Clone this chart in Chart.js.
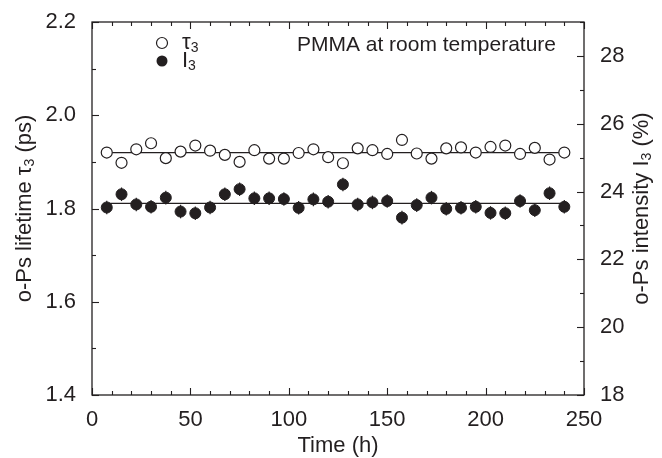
<!DOCTYPE html>
<html><head><meta charset="utf-8">
<script src="https://cdn.jsdelivr.net/npm/chart.js@4.4.0/dist/chart.umd.min.js"></script>
<style>html,body{margin:0;padding:0;background:#fff}canvas{display:block}</style>
</head><body>
<canvas id="c" width="662" height="458"></canvas>
<script>
const timeH = [7.5,15,22.5,30,37.5,45,52.5,60,67.5,75,82.5,90,97.5,105,112.5,120,127.5,135,142.5,150,157.5,165,172.5,180,187.5,195,202.5,210,217.5,225,232.5,240];
const tau3 = [1.920,1.898,1.927,1.940,1.908,1.922,1.935,1.924,1.915,1.900,1.925,1.907,1.907,1.919,1.927,1.910,1.897,1.929,1.925,1.917,1.947,1.918,1.907,1.929,1.931,1.920,1.932,1.935,1.917,1.930,1.905,1.920];
const I3 = [23.53,23.92,23.62,23.55,23.82,23.41,23.36,23.53,23.92,24.07,23.80,23.80,23.78,23.52,23.77,23.70,24.21,23.62,23.68,23.72,23.23,23.60,23.82,23.49,23.52,23.55,23.37,23.36,23.72,23.45,23.95,23.55];
const I3err = [0.2,0.2,0.2,0.2,0.2,0.2,0.2,0.2,0.2,0.2,0.2,0.2,0.2,0.2,0.2,0.2,0.2,0.2,0.2,0.2,0.2,0.2,0.2,0.2,0.2,0.2,0.2,0.2,0.2,0.2,0.2,0.2];
const tau3Fit = [1.92, 1.92];
const I3Fit = [23.65, 23.65];
const fitRange = [7.5, 240];
const xRange = [0, 250];
const tauRange = [1.4, 2.2];
const I3Range = [18, 29];

const INK = '#231f20';
const FONT = '"Liberation Sans", Arial, sans-serif';

function pts(xs, ys){ return xs.map((x,i)=>({x:x, y:ys[i]})); }

const frame = {
  id:'frame',
  beforeDatasetsDraw(chart){
    const ctx = chart.ctx, a = chart.chartArea;
    const sx = chart.scales.x, sy = chart.scales.y, sy2 = chart.scales.y2;
    ctx.save();
    ctx.strokeStyle = INK; ctx.lineWidth = 1.3;
    ctx.strokeRect(a.left, a.top, a.right-a.left, a.bottom-a.top);
    ctx.lineWidth = 1.1;
    for (let v = xRange[0]; v <= xRange[1]+1e-6; v += 10) {
      const px = Math.round(sx.getPixelForValue(v))+0.5;
      const len = (Math.abs(v % 50) < 1e-6) ? 7 : 4;
      ctx.beginPath(); ctx.moveTo(px, a.bottom); ctx.lineTo(px, a.bottom-len);
      ctx.moveTo(px, a.top); ctx.lineTo(px, a.top+len); ctx.stroke();
    }
    for (let k = 0; k <= 8; k++) {
      const v = tauRange[0] + k*0.1;
      const py = Math.round(sy.getPixelForValue(v))+0.5;
      const len = (k % 2 === 0) ? 7 : 4;
      ctx.beginPath(); ctx.moveTo(a.left, py); ctx.lineTo(a.left+len, py); ctx.stroke();
    }
    for (let v = I3Range[0]; v <= I3Range[1]+1e-6; v += 1) {
      const py = Math.round(sy2.getPixelForValue(v))+0.5;
      const len = (v % 2 === 0) ? 7 : 4;
      ctx.beginPath(); ctx.moveTo(a.right, py); ctx.lineTo(a.right-len, py); ctx.stroke();
    }
    const meta = chart.getDatasetMeta(3);
    ctx.lineWidth = 1.2;
    meta.data.forEach((el, i) => {
      const x = el.x;
      const y1 = sy2.getPixelForValue(I3[i] + I3err[i]);
      const y2 = sy2.getPixelForValue(I3[i] - I3err[i]);
      ctx.beginPath(); ctx.moveTo(x, y1); ctx.lineTo(x, y2); ctx.stroke();
    });
    ctx.restore();
  },
  afterDraw(chart){
    const ctx = chart.ctx, a = chart.chartArea;
    ctx.save();
    ctx.fillStyle = INK;
    function subText(parts, x, y, align){
      let w = 0;
      parts.forEach(p => { ctx.font = (p[1] ? '14px ' : '22px ') + FONT; w += ctx.measureText(p[0]).width; });
      let cx = align === 'center' ? x - w/2 : x;
      parts.forEach(p => {
        ctx.font = (p[1] ? '14px ' : '22px ') + FONT;
        ctx.fillText(p[0], cx, p[1] ? y + 5 : y);
        cx += ctx.measureText(p[0]).width;
      });
    }
    ctx.textBaseline = 'middle'; ctx.textAlign = 'left';
    subText([['Time (h)', false]], (a.left+a.right)/2, 446, 'center');
    ctx.save(); ctx.translate(25, (a.top+a.bottom)/2); ctx.rotate(-Math.PI/2);
    subText([['o-Ps lifetime \u03c4', false], ['3', true], [' (ps)', false]], 0, 0, 'center');
    ctx.restore();
    ctx.save(); ctx.translate(642, (a.top+a.bottom)/2); ctx.rotate(-Math.PI/2);
    subText([['o-Ps intensity I', false], ['3', true], [' (%)', false]], 0, 0, 'center');
    ctx.restore();
    const lx = a.left + 70, ly1 = a.top + 21, ly2 = a.top + 39;
    ctx.strokeStyle = INK; ctx.lineWidth = 1.2;
    ctx.beginPath(); ctx.arc(lx, ly1, 5.5, 0, Math.PI*2); ctx.fillStyle='#fff'; ctx.fill(); ctx.stroke();
    ctx.beginPath(); ctx.arc(lx, ly2, 5.5, 0, Math.PI*2); ctx.fillStyle=INK; ctx.fill();
    ctx.fillStyle = INK;
    subText([['\u03c4', false], ['3', true]], lx + 20, ly1, 'left');
    subText([['I', false], ['3', true]], lx + 20, ly2, 'left');
    ctx.font = '21px ' + FONT;
    ctx.textAlign = 'right';
    ctx.fillText('PMMA at room temperature', a.right - 28, ly1 + 2);
    ctx.restore();
  }
};

new Chart(document.getElementById('c'), {
  type: 'scatter',
  data: { datasets: [
    { type:'line', data: pts(fitRange, tau3Fit), yAxisID:'y', borderColor: INK, borderWidth: 1.3, pointRadius: 0, order: 5 },
    { type:'line', data: pts(fitRange, I3Fit), yAxisID:'y2', borderColor: INK, borderWidth: 1.3, pointRadius: 0, order: 5 },
    { data: pts(timeH, tau3), yAxisID:'y', pointStyle:'circle', pointRadius: 5.5, backgroundColor:'#fff', borderColor: INK, borderWidth: 1.2, order: 1 },
    { data: pts(timeH, I3), yAxisID:'y2', pointStyle:'circle', pointRadius: 5.5, backgroundColor: INK, borderColor: INK, borderWidth: 1, order: 1 }
  ]},
  options: {
    responsive: false, devicePixelRatio: 1, animation: false,
    layout: { padding: { top: 22, left: 0, right: 0, bottom: 0 } },
    plugins: { legend: { display: false }, tooltip: { enabled: false } },
    scales: {
      x: { type:'linear', min: xRange[0], max: xRange[1],
           grid: { display: false }, border: { display: false },
           ticks: { stepSize: 50, color: INK, font: { family: FONT, size: 22 }, padding: 4, includeBounds: false },
           afterFit(s){ s.height = 63; } },
      y: { type:'linear', position:'left', min: tauRange[0], max: tauRange[1],
           grid: { display: false }, border: { display: false },
           ticks: { stepSize: 0.2, color: INK, font: { family: FONT, size: 22 }, padding: 8, includeBounds: false,
                    callback: v => v.toFixed(1) },
           afterFit(s){ s.width = 92; } },
      y2: { type:'linear', position:'right', min: I3Range[0], max: I3Range[1],
           grid: { display: false }, border: { display: false },
           ticks: { stepSize: 2, color: INK, font: { family: FONT, size: 22 }, padding: 8, includeBounds: false,
                    callback: v => String(v) },
           afterFit(s){ s.width = 78; } }
    }
  },
  plugins: [frame]
});
</script>
</body></html>
